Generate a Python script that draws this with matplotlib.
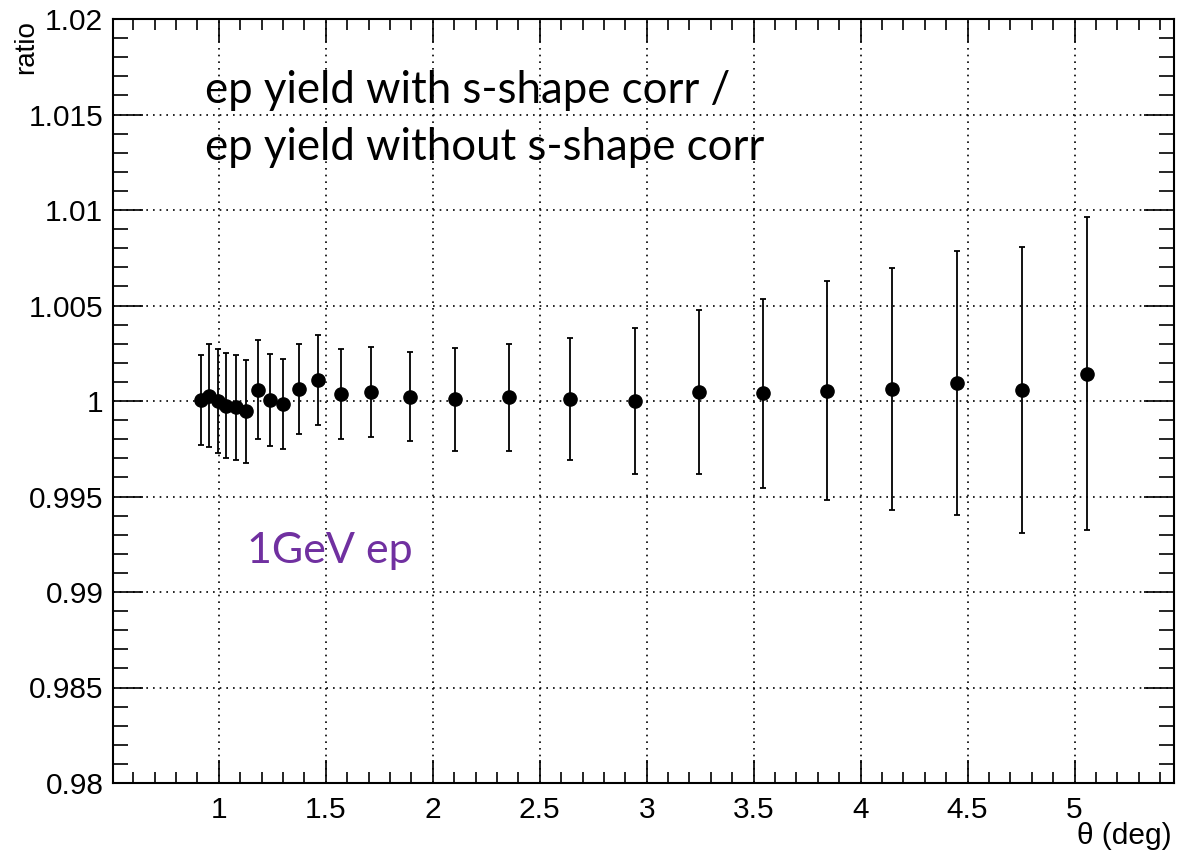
import numpy as np
import matplotlib.pyplot as plt
from matplotlib.ticker import MultipleLocator

# ---------------------------
# DATA
# ---------------------------
theta = [0.916, 0.955, 0.994, 1.033, 1.079, 1.129, 1.182, 1.237, 1.302, 1.375,
         1.463, 1.572, 1.709, 1.893, 2.106, 2.354, 2.643, 2.944, 3.244, 3.545,
         3.844, 4.149, 4.451, 4.753, 5.060]
ratio = [1.00005, 1.00028, 1.00000, 0.99974, 0.99967, 0.99946, 1.00059, 1.00004,
         0.99984, 1.00063, 1.00108, 1.00037, 1.00049, 1.00023, 1.00009, 1.00019,
         1.00009, 1.00000, 1.00049, 1.00040, 1.00054, 1.00064, 1.00094, 1.00057,
         1.00143]
ratio_err = [0.00237, 0.00270, 0.00272, 0.00275, 0.00276, 0.00269, 0.00259, 0.00241,
             0.00237, 0.00235, 0.00236, 0.00237, 0.00236, 0.00232, 0.00270, 0.00280,
             0.00320, 0.00380, 0.00430, 0.00496, 0.00572, 0.00633, 0.00690, 0.00750,
             0.00820]

title_lines = ["ep yield with s-shape corr /", "ep yield without s-shape corr"]
beam_label = "1GeV ep"

# -----------
# DRAW CHART
# -----------
plt.rcParams["font.family"] = ["Liberation Sans", "DejaVu Sans"]

W, H = 1178, 852
fig = plt.figure(figsize=(W / 100, H / 100), dpi=100)
ax = fig.add_axes([113 / W, 1 - 783 / H, (1174 - 113) / W, (783 - 19) / H])

ax.errorbar(theta, ratio, yerr=ratio_err, fmt="o", color="black", markersize=9.5,
            elinewidth=1.3, capsize=2.5, capthick=1.3, zorder=3)

ax.set_xlim(0.505, 5.465)
ax.set_ylim(0.98, 1.02)

ax.xaxis.set_minor_locator(MultipleLocator(0.1))
ax.yaxis.set_minor_locator(MultipleLocator(0.001))

ax.set_xticks([1, 1.5, 2, 2.5, 3, 3.5, 4, 4.5, 5])
ax.set_xticklabels(["1", "1.5", "2", "2.5", "3", "3.5", "4", "4.5", "5"])
ax.set_yticks([0.98, 0.985, 0.99, 0.995, 1.0, 1.005, 1.01, 1.015, 1.02])
ax.set_yticklabels(["0.98", "0.985", "0.99", "0.995", "1", "1.005", "1.01", "1.015", "1.02"])

ax.tick_params(axis="both", which="both", direction="in", top=True, right=True,
               width=1.2, labelsize=21.5)
ax.tick_params(axis="y", which="major", length=21.5, pad=7)
ax.tick_params(axis="y", which="minor", length=10.8)
ax.tick_params(axis="x", which="major", length=16.5, pad=9)
ax.tick_params(axis="x", which="minor", length=8)

for s in ax.spines.values():
    s.set_linewidth(1.5)

ax.grid(True, which="major", color="black", linestyle=(0, (1, 3)), linewidth=1.2)

# axis titles, ROOT style (right / top aligned)
fig.text(1172 / W, 1 - 836 / H, "θ (deg)", fontsize=21.5, ha="right", va="center")
fig.text(26 / W, 1 - 20 / H, "ratio", fontsize=20, rotation=90, ha="center", va="top")

# text overlays
ax.text(205, H - 103, title_lines[0], transform=None, fontsize=31.5,
        family=["Lato", "DejaVu Sans"], color="black", va="baseline")
ax.text(205, H - 160, title_lines[1], transform=None, fontsize=31.5,
        family=["Lato", "DejaVu Sans"], color="black", va="baseline")
ax.text(247, H - 563, beam_label, transform=None, fontsize=31,
        family=["Lato", "DejaVu Sans"], color="#7030A0", va="baseline")

fig.savefig("out.png", dpi=100)
plt.close(fig)
